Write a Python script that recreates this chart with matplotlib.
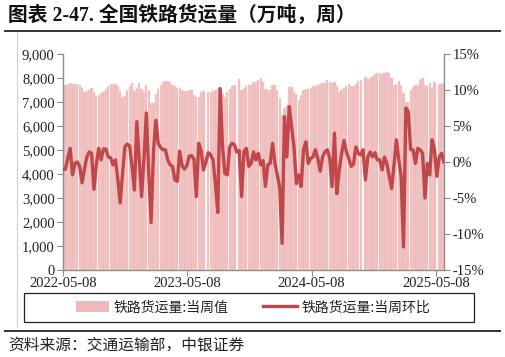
import numpy as np
import pandas as pd
import matplotlib
matplotlib.use("Agg")
import matplotlib.pyplot as plt
from matplotlib.lines import Line2D
from matplotlib.patches import Patch, Rectangle
from matplotlib.ticker import FuncFormatter, MultipleLocator

# ---------------- data ----------------
start_date = "2022-05-08"
n_weeks = 161
dates = pd.date_range(start_date, periods=n_weeks, freq="7D")

# weekly national railway freight volume (10k tonnes); NaN = missing week
volume = [
    7720, 7700, 7750, 7800, 7740, 7750, 7740, 7700, 7570, 7400,
    7450, 7500, 7580, 7400, 7250, 7300, 7380, 7420, 7550, 7650,
    7730, 7750, 7730, 7650, 7450, 7200, 7250, 7500, 7650, 7780,
    7450, 7600, 7800, 7550, 7400, 7700, 7500, 6950, 6950, 7350,
    7550, 7700, 7850, 7890, 7890, 7820, 7720, 7650, 7600, 7570,
    7500, 7450, 7450, 7480, 7480, 7300, 7200, 7220, 7400, 7450,
    np.nan, 7420, 7420, 7450, 7500, 7600, 7480, 7350, 7200, 7400,
    7550, 7650, 7700, np.nan, 7950, 7500, 7600, 7650, 7700, 7700,
    7850, 7850, 7900, 7990, 7846, 7530, 7500, 7500, 7700, 7700,
    7500, 7125, 6460, 6736, 6875, 7640, 7640, 7430, 7330, 7080,
    7300, 7480, 7530, 7550, 7600, 7650, 7650, 7700, 7750, 7780,
    7800, 7900, 7850, 7800, 7850, 7650, 7400, 7500, 7600, 7650,
    7750, 7670, 7680, 7750, 7880, 7920, np.nan, 8050, 7950, 8000,
    8080, 8150, 8200, 8220, 8180, 8200, 8236, 8200, 8014, 7708,
    7750, 7875, 7708, 7360, 7014, 7014, 7500, 7640, 7708, 7708,
    7917, 8014, 7708, 7650, 7778, 7570, 7846, np.nan, 7750, 7750,
    7780,
]

# week-on-week change (%)
wow_pct = [
    -1.1, -1.0, 0.5, 1.9, -1.8, -0.2, 0.0, -0.6, -2.9, -1.0,
    0.7, 1.4, 1.2, -3.8, -0.3, 1.9, 0.3, 1.8, 1.8, 0.7,
    0.6, -0.4, 0.3, -2.3, -5.7, -1.6, 2.1, 2.5, 2.2, -0.7,
    -3.9, 5.6, 0.5, -4.8, 0.5, 6.8, -1.5, -8.4, 1.5, 5.8,
    2.6, 2.0, 1.7, 1.7, 0.3, -0.4, -0.6, -2.5, -2.7, 1.5,
    -0.5, -1.0, -0.5, 0.8, 0.9, 0.4, -4.8, 2.6, 1.6, -1.1,
    0.0, 1.3, 1.0, 0.3, -3.0, -7.0, 10.2, 2.1, -1.6, -1.8,
    2.1, 2.6, 2.4, 1.4, 1.6, -4.8, 1.5, 1.9, -0.6, -0.2,
    1.4, 0.3, 1.2, -0.4, 0.2, -3.4, -0.4, -0.2, 2.6, -0.2,
    -1.8, -3.5, -11.3, 6.3, 0.7, 7.7, 4.9, 2.1, -3.0, -1.8,
    -3.4, 1.7, 2.8, -0.2, 0.5, 0.7, 1.7, 0.5, -1.3, 0.7,
    1.4, 1.7, 0.5, -3.4, 4.0, -4.4, -1.1, 1.2, 3.0, 1.4,
    0.5, -0.6, -0.3, 2.1, 1.2, 1.0, 1.7, -2.5, 0.7, 1.4,
    0.7, 1.3, 0.3, 0.3, -1.1, 0.7, -0.2, -2.0, -3.7, -0.4,
    3.1, 0.3, -2.0, -11.8, 7.5, 7.0, 1.7, 1.7, -0.2, 1.9,
    1.7, 1.2, -5.0, -0.2, -1.8, 3.1, 1.7, -2.0, 0.7, 1.2,
    0.0,
]

x_tick_labels = ["2022-05-08", "2023-05-08", "2024-05-08", "2025-05-08"]
title = "图表 2-47. 全国铁路货运量（万吨，周）"
source = "资料来源：交通运输部，中银证券"
legend_labels = ["铁路货运量:当周值", "铁路货运量:当周环比"]

# ---------------- style ----------------
W, H = 505, 357
bar_color = "#EFB9B9"
bar_edge = "#F8DADA"
line_color = "#C0474A"
axis_gray = "#8C8C8C"
serif = ["Liberation Serif", "Noto Sans CJK SC"]
cjk = ["Noto Sans CJK SC", "DejaVu Sans"]

fig = plt.figure(figsize=(W / 100, H / 100), dpi=100)

def fx(px):
    return px / W

def fy(py):
    return 1 - py / H

ax = fig.add_axes([fx(63), fy(270), fx(444) - fx(63), fy(54) - fy(270)])
ax2 = ax.twinx()

ax.bar(dates, volume, width=6.6, color=bar_color, edgecolor=bar_edge,
       linewidth=0.3, zorder=1)
ax2.plot(dates, wow_pct, color=line_color, linewidth=2.4, zorder=3,
         solid_joinstyle="round")

ax.set_xlim(dates[0], dates[-1])
ax.set_ylim(0, 9000)
ax.yaxis.set_major_locator(MultipleLocator(1000))
ax.yaxis.set_major_formatter(FuncFormatter(lambda v, p: f"{int(v):,}"))
ax2.set_ylim(-15, 15)
ax2.yaxis.set_major_locator(MultipleLocator(5))
ax2.yaxis.set_major_formatter(FuncFormatter(lambda v, p: f"{v:.0f}%"))

ax.set_xticks(pd.to_datetime(x_tick_labels))
ax.set_xticklabels(x_tick_labels)

for a in (ax, ax2):
    a.spines["top"].set_visible(False)
    for s in ("left", "right", "bottom"):
        a.spines[s].set_color(axis_gray)
        a.spines[s].set_linewidth(1.0)
    a.tick_params(axis="both", which="major", length=4, width=0.8,
                  color=axis_gray, labelsize=10.5, pad=2, labelcolor="#222222")
    for lab in a.get_xticklabels() + a.get_yticklabels():
        lab.set_family(serif)
ax.spines["right"].set_visible(False)
ax2.spines["left"].set_visible(False)
ax2.spines["bottom"].set_visible(False)
ax.tick_params(axis="x", pad=1)

# ---------------- frame, title, source ----------------
fig.text(fx(8), fy(16), title, family=serif, fontsize=14.2, fontweight="bold",
         va="center", ha="left", color="#111111")
fig.add_artist(Line2D([fx(5), fx(500)], [fy(31), fy(31)], color="#333333", lw=1.4))
fig.add_artist(Line2D([fx(16.5), fx(16.5)], [fy(32), fy(327)], color="#D0D0D0", lw=0.8))
fig.add_artist(Line2D([fx(5), fx(500)], [fy(330.5), fy(330.5)], color="#333333", lw=1.4))
fig.text(fx(8), fy(345), source, family=cjk, fontsize=11.3, style="italic",
         va="center", ha="left", color="#222222")

# ---------------- legend ----------------
fig.add_artist(Rectangle((fx(24), fy(322)), fx(474) - fx(24), fy(293) - fy(322),
                         transform=fig.transFigure, fill=False,
                         edgecolor="#222222", linewidth=0.9))
handles = [Patch(facecolor=bar_color, edgecolor="none"),
           Line2D([], [], color=line_color, linewidth=2.4)]
leg = fig.legend(handles, legend_labels, loc="center",
                 bbox_to_anchor=(fx(253), fy(307.5)), ncol=2, frameon=False,
                 prop={"family": cjk, "size": 10, "weight": "light"},
                 handlelength=2.4, handleheight=0.8, handletextpad=0.35,
                 columnspacing=2.5, borderpad=0)
for t in leg.get_texts():
    t.set_color("#222222")

fig.savefig("out.png", dpi=100)
